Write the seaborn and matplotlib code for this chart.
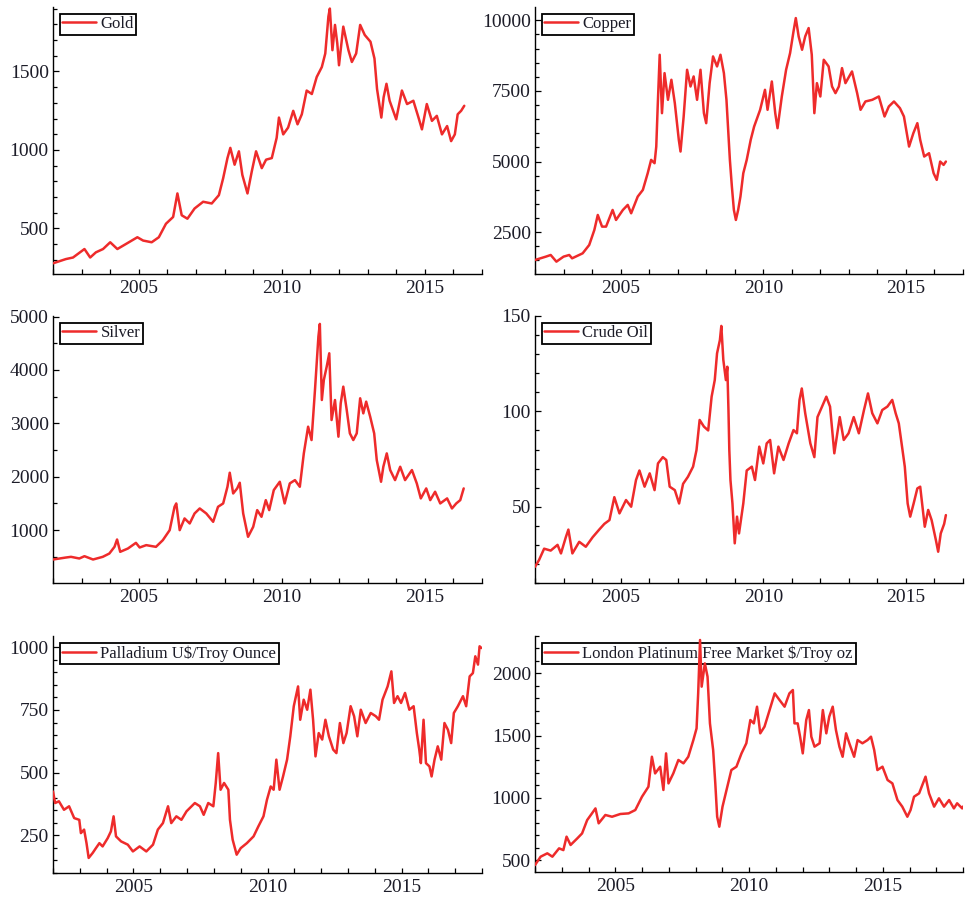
import matplotlib
matplotlib.use("Agg")
import matplotlib.pyplot as plt
from matplotlib.ticker import MultipleLocator, FixedLocator
import seaborn as sns
import pandas as pd

# ---- commodity price series (decimal year, price) ----
gold_years = [2002.0, 2002.45, 2002.7, 2003.1, 2003.3, 2003.5, 2003.75, 2004.0, 2004.25, 2004.55,
              2004.95, 2005.15, 2005.45, 2005.7, 2005.95, 2006.2, 2006.35, 2006.5, 2006.7, 2006.95,
              2007.25, 2007.55, 2007.8, 2007.95, 2008.1, 2008.2, 2008.35, 2008.5, 2008.62, 2008.8,
              2008.95, 2009.1, 2009.3, 2009.45, 2009.65, 2009.82, 2009.9, 2010.05, 2010.22, 2010.4,
              2010.55, 2010.7, 2010.87, 2011.05, 2011.22, 2011.4, 2011.52, 2011.63, 2011.68, 2011.77,
              2011.86, 2011.94, 2012.0, 2012.15, 2012.33, 2012.45, 2012.6, 2012.74, 2012.9, 2013.1,
              2013.24, 2013.33, 2013.48, 2013.56, 2013.66, 2013.77, 2014.0, 2014.2, 2014.38, 2014.6,
              2014.78, 2014.9, 2015.07, 2015.25, 2015.42, 2015.6, 2015.78, 2015.92, 2016.05, 2016.15,
              2016.27, 2016.38]
gold_prices = [278, 305, 315, 369, 315, 348, 369, 412, 369, 401,
               444, 423, 412, 444, 530, 573, 723, 584, 562, 627,
               670, 659, 712, 820, 948, 1013, 906, 991, 841, 723,
               863, 991, 884, 938, 948, 1077, 1206, 1099, 1142, 1249,
               1163, 1227, 1378, 1356, 1464, 1528, 1614, 1850, 1900, 1635,
               1796, 1678, 1539, 1785, 1635, 1560, 1614, 1796, 1732, 1689,
               1582, 1388, 1206, 1335, 1421, 1313, 1195, 1378, 1292, 1313,
               1206, 1131, 1292, 1185, 1217, 1099, 1152, 1056, 1099, 1227,
               1249, 1281]

copper_years = [2002.0, 2002.38, 2002.55, 2002.75, 2003.0, 2003.2, 2003.3, 2003.67, 2003.9, 2004.08,
                2004.2, 2004.35, 2004.49, 2004.72, 2004.84, 2005.08, 2005.25, 2005.37, 2005.6, 2005.78,
                2005.95, 2006.07, 2006.19, 2006.25, 2006.3, 2006.37, 2006.45, 2006.54, 2006.66, 2006.78,
                2006.9, 2007.04, 2007.1, 2007.21, 2007.33, 2007.45, 2007.56, 2007.68, 2007.8, 2007.92,
                2008.0, 2008.12, 2008.24, 2008.38, 2008.5, 2008.62, 2008.71, 2008.77, 2008.83, 2008.9,
                2008.97, 2009.04, 2009.12, 2009.2, 2009.3, 2009.42, 2009.56, 2009.68, 2009.89, 2010.06,
                2010.15, 2010.3, 2010.42, 2010.5, 2010.65, 2010.8, 2010.94, 2011.06, 2011.14, 2011.24,
                2011.36, 2011.47, 2011.59, 2011.7, 2011.79, 2011.88, 2012.0, 2012.12, 2012.29, 2012.41,
                2012.53, 2012.65, 2012.76, 2012.88, 2013.11, 2013.29, 2013.41, 2013.58, 2013.82, 2014.05,
                2014.25, 2014.4, 2014.58, 2014.79, 2014.93, 2015.11, 2015.26, 2015.4, 2015.5, 2015.64,
                2015.81, 2015.97, 2016.08, 2016.2, 2016.32, 2016.4]
copper_prices = [1516, 1634, 1693, 1457, 1634, 1693, 1575, 1752, 2047, 2579,
                 3110, 2697, 2697, 3287, 2933, 3287, 3465, 3169, 3760, 3996,
                 4587, 5059, 4941, 5531, 6949, 8779, 6712, 8130, 7185, 7894,
                 7067, 5768, 5354, 6594, 8248, 7657, 8012, 7185, 8248, 6712,
                 6358, 7775, 8720, 8366, 8779, 8130, 7185, 6122, 5059, 4114,
                 3287, 2933, 3287, 3760, 4587, 5059, 5768, 6240, 6831, 7539,
                 6831, 7834, 6712, 6181, 7303, 8248, 8838, 9606, 10078, 9429,
                 8957, 9429, 9724, 8779, 6712, 7775, 7303, 8602, 8366, 7657,
                 7421, 7657, 8307, 7775, 8189, 7421, 6831, 7126, 7185, 7303,
                 6594, 6949, 7126, 6890, 6594, 5531, 6004, 6358, 5768, 5177,
                 5295, 4587, 4351, 5000, 4882, 5000]

silver_years = [2002.0, 2002.45, 2002.63, 2002.92, 2003.1, 2003.4, 2003.74, 2003.97, 2004.15, 2004.24,
                2004.35, 2004.62, 2004.9, 2005.03, 2005.26, 2005.6, 2005.84, 2006.08, 2006.25, 2006.31,
                2006.43, 2006.6, 2006.78, 2006.95, 2007.13, 2007.36, 2007.6, 2007.77, 2007.95, 2008.1,
                2008.18, 2008.3, 2008.44, 2008.53, 2008.65, 2008.82, 2009.0, 2009.14, 2009.29, 2009.44,
                2009.56, 2009.72, 2009.93, 2010.1, 2010.28, 2010.46, 2010.63, 2010.77, 2010.92, 2011.04,
                2011.16, 2011.28, 2011.33, 2011.4, 2011.47, 2011.57, 2011.66, 2011.74, 2011.86, 2011.98,
                2012.06, 2012.15, 2012.27, 2012.38, 2012.5, 2012.62, 2012.74, 2012.85, 2012.95, 2013.09,
                2013.23, 2013.32, 2013.47, 2013.55, 2013.67, 2013.79, 2013.96, 2014.14, 2014.31, 2014.55,
                2014.72, 2014.86, 2015.05, 2015.19, 2015.36, 2015.54, 2015.78, 2015.95, 2016.1, 2016.24,
                2016.36]
silver_prices = [450, 487, 500, 469, 512, 450, 500, 562, 687, 825,
                 594, 656, 762, 675, 719, 687, 812, 1000, 1437, 1500,
                 1000, 1219, 1125, 1312, 1406, 1312, 1156, 1437, 1500, 1812,
                 2075, 1687, 1781, 1887, 1312, 875, 1062, 1375, 1250, 1562,
                 1375, 1750, 1906, 1500, 1875, 1937, 1812, 2437, 2937, 2687,
                 3625, 4625, 4862, 3437, 3812, 4062, 4312, 3062, 3437, 2750,
                 3375, 3687, 3250, 2812, 2687, 2812, 3469, 3187, 3406, 3125,
                 2812, 2312, 1906, 2187, 2437, 2125, 1937, 2187, 1937, 2125,
                 1875, 1594, 1781, 1562, 1719, 1500, 1594, 1406, 1500, 1562,
                 1781]

oil_years = [2002.0, 2002.14, 2002.32, 2002.55, 2002.79, 2002.91, 2003.08, 2003.17, 2003.31, 2003.55,
             2003.78, 2004.02, 2004.25, 2004.43, 2004.61, 2004.78, 2004.96, 2005.19, 2005.37, 2005.54,
             2005.66, 2005.84, 2006.02, 2006.19, 2006.31, 2006.48, 2006.6, 2006.72, 2006.9, 2007.05,
             2007.19, 2007.36, 2007.54, 2007.66, 2007.77, 2007.92, 2008.07, 2008.19, 2008.3, 2008.38,
             2008.48, 2008.53, 2008.6, 2008.69, 2008.74, 2008.78, 2008.81, 2008.85, 2008.92, 2009.0,
             2009.08, 2009.15, 2009.3, 2009.42, 2009.6, 2009.71, 2009.86, 2010.0, 2010.12, 2010.24,
             2010.38, 2010.53, 2010.71, 2010.89, 2011.06, 2011.18, 2011.27, 2011.35, 2011.47, 2011.65,
             2011.79, 2011.9, 2012.06, 2012.21, 2012.34, 2012.49, 2012.68, 2012.82, 2012.99, 2013.17,
             2013.35, 2013.53, 2013.67, 2013.82, 2014.0, 2014.17, 2014.35, 2014.52, 2014.64, 2014.75,
             2014.88, 2014.96, 2015.06, 2015.15, 2015.27, 2015.4, 2015.5, 2015.58, 2015.66, 2015.78,
             2015.9, 2016.05, 2016.13, 2016.22, 2016.34, 2016.4]
oil_prices = [18.5, 22, 28, 27, 30, 25.5, 34, 38, 25.5, 31.6,
              29, 34, 38, 41, 43, 55, 46.5, 53.5, 50, 64,
              69, 60.5, 67.5, 58.7, 72.7, 76, 74.5, 60.5, 58.7, 51.7,
              62, 65.7, 71, 79.7, 95.5, 92, 90, 107.7, 116.4, 130.4,
              137.4, 144.8, 127, 116.4, 123.4, 100.7, 79.7, 64, 51.7, 30.8,
              44.8, 36, 51.7, 69, 71, 64, 81.5, 72.7, 83.2, 85,
              67.5, 81.5, 74.5, 83.2, 90.2, 88.5, 106, 112, 99, 83.2,
              76, 97, 102.5, 107.7, 102.5, 78, 97, 85, 88.5, 97,
              88.5, 100.7, 109.4, 99, 93.7, 100.7, 102.5, 106, 99, 93.7,
              79.7, 71, 51.7, 44.8, 51.7, 59.6, 60.5, 50, 39.5, 48.3,
              43, 32.5, 26.4, 36, 41, 45.6]

palladium_years = [2002.0, 2002.08, 2002.22, 2002.41, 2002.6, 2002.79, 2002.98, 2003.04, 2003.16, 2003.25,
                   2003.33, 2003.48, 2003.6, 2003.73, 2003.85, 2004.04, 2004.16, 2004.26, 2004.35, 2004.54,
                   2004.79, 2004.98, 2005.23, 2005.48, 2005.73, 2005.91, 2006.1, 2006.29, 2006.41, 2006.6,
                   2006.79, 2006.98, 2007.29, 2007.48, 2007.62, 2007.79, 2007.98, 2008.07, 2008.16, 2008.25,
                   2008.38, 2008.54, 2008.6, 2008.7, 2008.85, 2009.0, 2009.23, 2009.48, 2009.66, 2009.85,
                   2009.98, 2010.12, 2010.23, 2010.33, 2010.45, 2010.58, 2010.73, 2010.85, 2010.98, 2011.14,
                   2011.22, 2011.35, 2011.48, 2011.6, 2011.7, 2011.79, 2011.91, 2012.04, 2012.16, 2012.29,
                   2012.45, 2012.57, 2012.7, 2012.83, 2012.95, 2013.1, 2013.23, 2013.35, 2013.48, 2013.66,
                   2013.85, 2014.04, 2014.16, 2014.29, 2014.48, 2014.62, 2014.72, 2014.85, 2014.98, 2015.13,
                   2015.29, 2015.45, 2015.57, 2015.66, 2015.72, 2015.82, 2015.91, 2016.04, 2016.12, 2016.23,
                   2016.35, 2016.48, 2016.6, 2016.73, 2016.85, 2016.95, 2017.1, 2017.29, 2017.41, 2017.54,
                   2017.66, 2017.75, 2017.85, 2017.91, 2017.98]
palladium_prices = [425, 379, 386, 352, 366, 319, 312, 259, 273, 219,
                    160, 180, 199, 219, 206, 239, 266, 326, 246, 226,
                    213, 186, 206, 186, 213, 273, 299, 366, 299, 326,
                    312, 346, 379, 366, 332, 379, 366, 459, 578, 432,
                    459, 432, 312, 233, 173, 199, 219, 246, 286, 326,
                    392, 445, 432, 552, 432, 485, 552, 645, 765, 844,
                    711, 791, 751, 831, 711, 565, 658, 632, 711, 645,
                    592, 578, 698, 618, 658, 765, 725, 645, 751, 698,
                    738, 725, 711, 791, 844, 904, 778, 805, 778, 818,
                    751, 765, 658, 592, 538, 711, 538, 525, 485, 552,
                    605, 552, 698, 671, 618, 738, 765, 805, 765, 884,
                    897, 964, 931, 1004, 997]

platinum_years = [2002.0, 2002.21, 2002.46, 2002.65, 2002.9, 2003.06, 2003.18, 2003.33, 2003.58, 2003.76,
                  2003.95, 2004.13, 2004.26, 2004.38, 2004.63, 2004.88, 2005.19, 2005.5, 2005.75, 2006.0,
                  2006.24, 2006.37, 2006.49, 2006.68, 2006.8, 2006.9, 2006.99, 2007.17, 2007.36, 2007.55,
                  2007.73, 2007.92, 2008.04, 2008.1, 2008.17, 2008.23, 2008.35, 2008.45, 2008.54, 2008.66,
                  2008.74, 2008.81, 2008.89, 2009.01, 2009.16, 2009.34, 2009.53, 2009.72, 2009.9, 2010.05,
                  2010.18, 2010.3, 2010.42, 2010.58, 2010.77, 2010.96, 2011.14, 2011.33, 2011.51, 2011.64,
                  2011.7, 2011.82, 2011.91, 2012.01, 2012.14, 2012.24, 2012.33, 2012.45, 2012.64, 2012.76,
                  2012.89, 2013.0, 2013.13, 2013.25, 2013.38, 2013.5, 2013.63, 2013.75, 2013.93, 2014.06,
                  2014.24, 2014.43, 2014.56, 2014.68, 2014.8, 2014.99, 2015.18, 2015.36, 2015.55, 2015.73,
                  2015.92, 2016.04, 2016.17, 2016.36, 2016.6, 2016.73, 2016.92, 2017.1, 2017.29, 2017.48,
                  2017.66, 2017.78, 2017.97, 2017.99]
platinum_prices = [460, 527, 554, 527, 594, 580, 688, 621, 674, 714,
                   821, 875, 915, 795, 862, 848, 870, 875, 902, 1009,
                   1089, 1330, 1196, 1250, 1063, 1357, 1116, 1196, 1304, 1277,
                   1330, 1464, 1558, 1839, 2268, 1893, 2080, 1973, 1598, 1384,
                   1116, 848, 768, 929, 1063, 1223, 1250, 1357, 1438, 1625,
                   1598, 1732, 1518, 1572, 1705, 1839, 1786, 1732, 1839, 1866,
                   1598, 1598, 1491, 1357, 1625, 1705, 1491, 1411, 1438, 1705,
                   1518, 1652, 1732, 1545, 1411, 1330, 1518, 1438, 1330, 1464,
                   1438, 1464, 1491, 1384, 1223, 1250, 1143, 1116, 982, 929,
                   848, 902, 1009, 1036, 1170, 1036, 929, 996, 929, 982,
                   915, 956, 915, 929]

sns.set_style("ticks")
plt.rcParams["font.family"] = ["Liberation Serif", "DejaVu Serif"]
plt.rcParams["axes.linewidth"] = 1.0

LINE_RED = "#ee2b2b"
TEXT_DARK = "#1c1c28"

W, H = 965, 898
fig = plt.figure(figsize=(W / 100, H / 100), dpi=100)


def panel_axes(left, top, right, bottom):
    return fig.add_axes([left / W, 1 - bottom / H, (right - left) / W, (bottom - top) / H])


panels = [
    # label, years, prices, box (l, t, r, b), xlim, ylim, major, minor
    ("Gold", gold_years, gold_prices, (53, 7, 482, 274), (2002, 2017), (210, 1910), 500, 100),
    ("Copper", copper_years, copper_prices, (535, 7, 963, 274), (2002, 2017), (1020, 10470), 2500, 500),
    ("Silver", silver_years, silver_prices, (53, 316, 482, 583), (2002, 2017), (10, 5010), 1000, 500),
    ("Crude Oil", oil_years, oil_prices, (535, 316, 963, 583), (2002, 2017), (10, 150), 50, 10),
    ("Palladium U$/Troy Ounce", palladium_years, palladium_prices, (53, 636, 482, 873),
     (2002, 2018), (100, 1045), 250, 50),
    ("London Platinum Free Market $/Troy oz", platinum_years, platinum_prices, (535, 636, 963, 872),
     (2002, 2018), (404, 2300), 500, 100),
]

for label, years, prices, box, xlim, ylim, major, minor in panels:
    ax = panel_axes(*box)
    df = pd.DataFrame({"year": years, "price": prices})
    sns.lineplot(data=df, x="year", y="price", ax=ax, color=LINE_RED,
                 linewidth=1.8, label=label, zorder=3)
    ax.set_xlim(*xlim)
    ax.set_ylim(*ylim)
    ax.set_xlabel("")
    ax.set_ylabel("")
    for side in ("top", "right"):
        ax.spines[side].set_visible(False)
    for side in ("left", "bottom"):
        ax.spines[side].set_color("black")
        ax.spines[side].set_linewidth(1.0)

    ax.xaxis.set_major_locator(FixedLocator([2005, 2010, 2015]))
    ax.xaxis.set_minor_locator(MultipleLocator(1))
    ax.yaxis.set_major_locator(MultipleLocator(major))
    ax.yaxis.set_minor_locator(MultipleLocator(minor))
    ax.tick_params(axis="both", which="both", direction="in", color="black", width=0.9)
    ax.tick_params(axis="x", which="major", length=3.6, pad=4, labelsize=14, labelcolor=TEXT_DARK)
    ax.tick_params(axis="x", which="minor", length=3.6)
    ax.tick_params(axis="y", which="major", length=4.6, pad=3, labelsize=14, labelcolor=TEXT_DARK)
    ax.tick_params(axis="y", which="minor", length=3.0)
    ax.set_xticklabels(["2005", "2010", "2015"])

    leg = ax.legend(loc="upper left", bbox_to_anchor=(0.0, 1.0), borderaxespad=0.4,
                    frameon=True, fancybox=False, fontsize=12, handlelength=2.0,
                    handletextpad=0.3, borderpad=0.15, labelcolor=TEXT_DARK)
    frame = leg.get_frame()
    frame.set_edgecolor("black")
    frame.set_linewidth(1.3)
    frame.set_facecolor("white")
    frame.set_alpha(1.0)
    leg.set_zorder(1)

fig.savefig("out.png", dpi=100)
